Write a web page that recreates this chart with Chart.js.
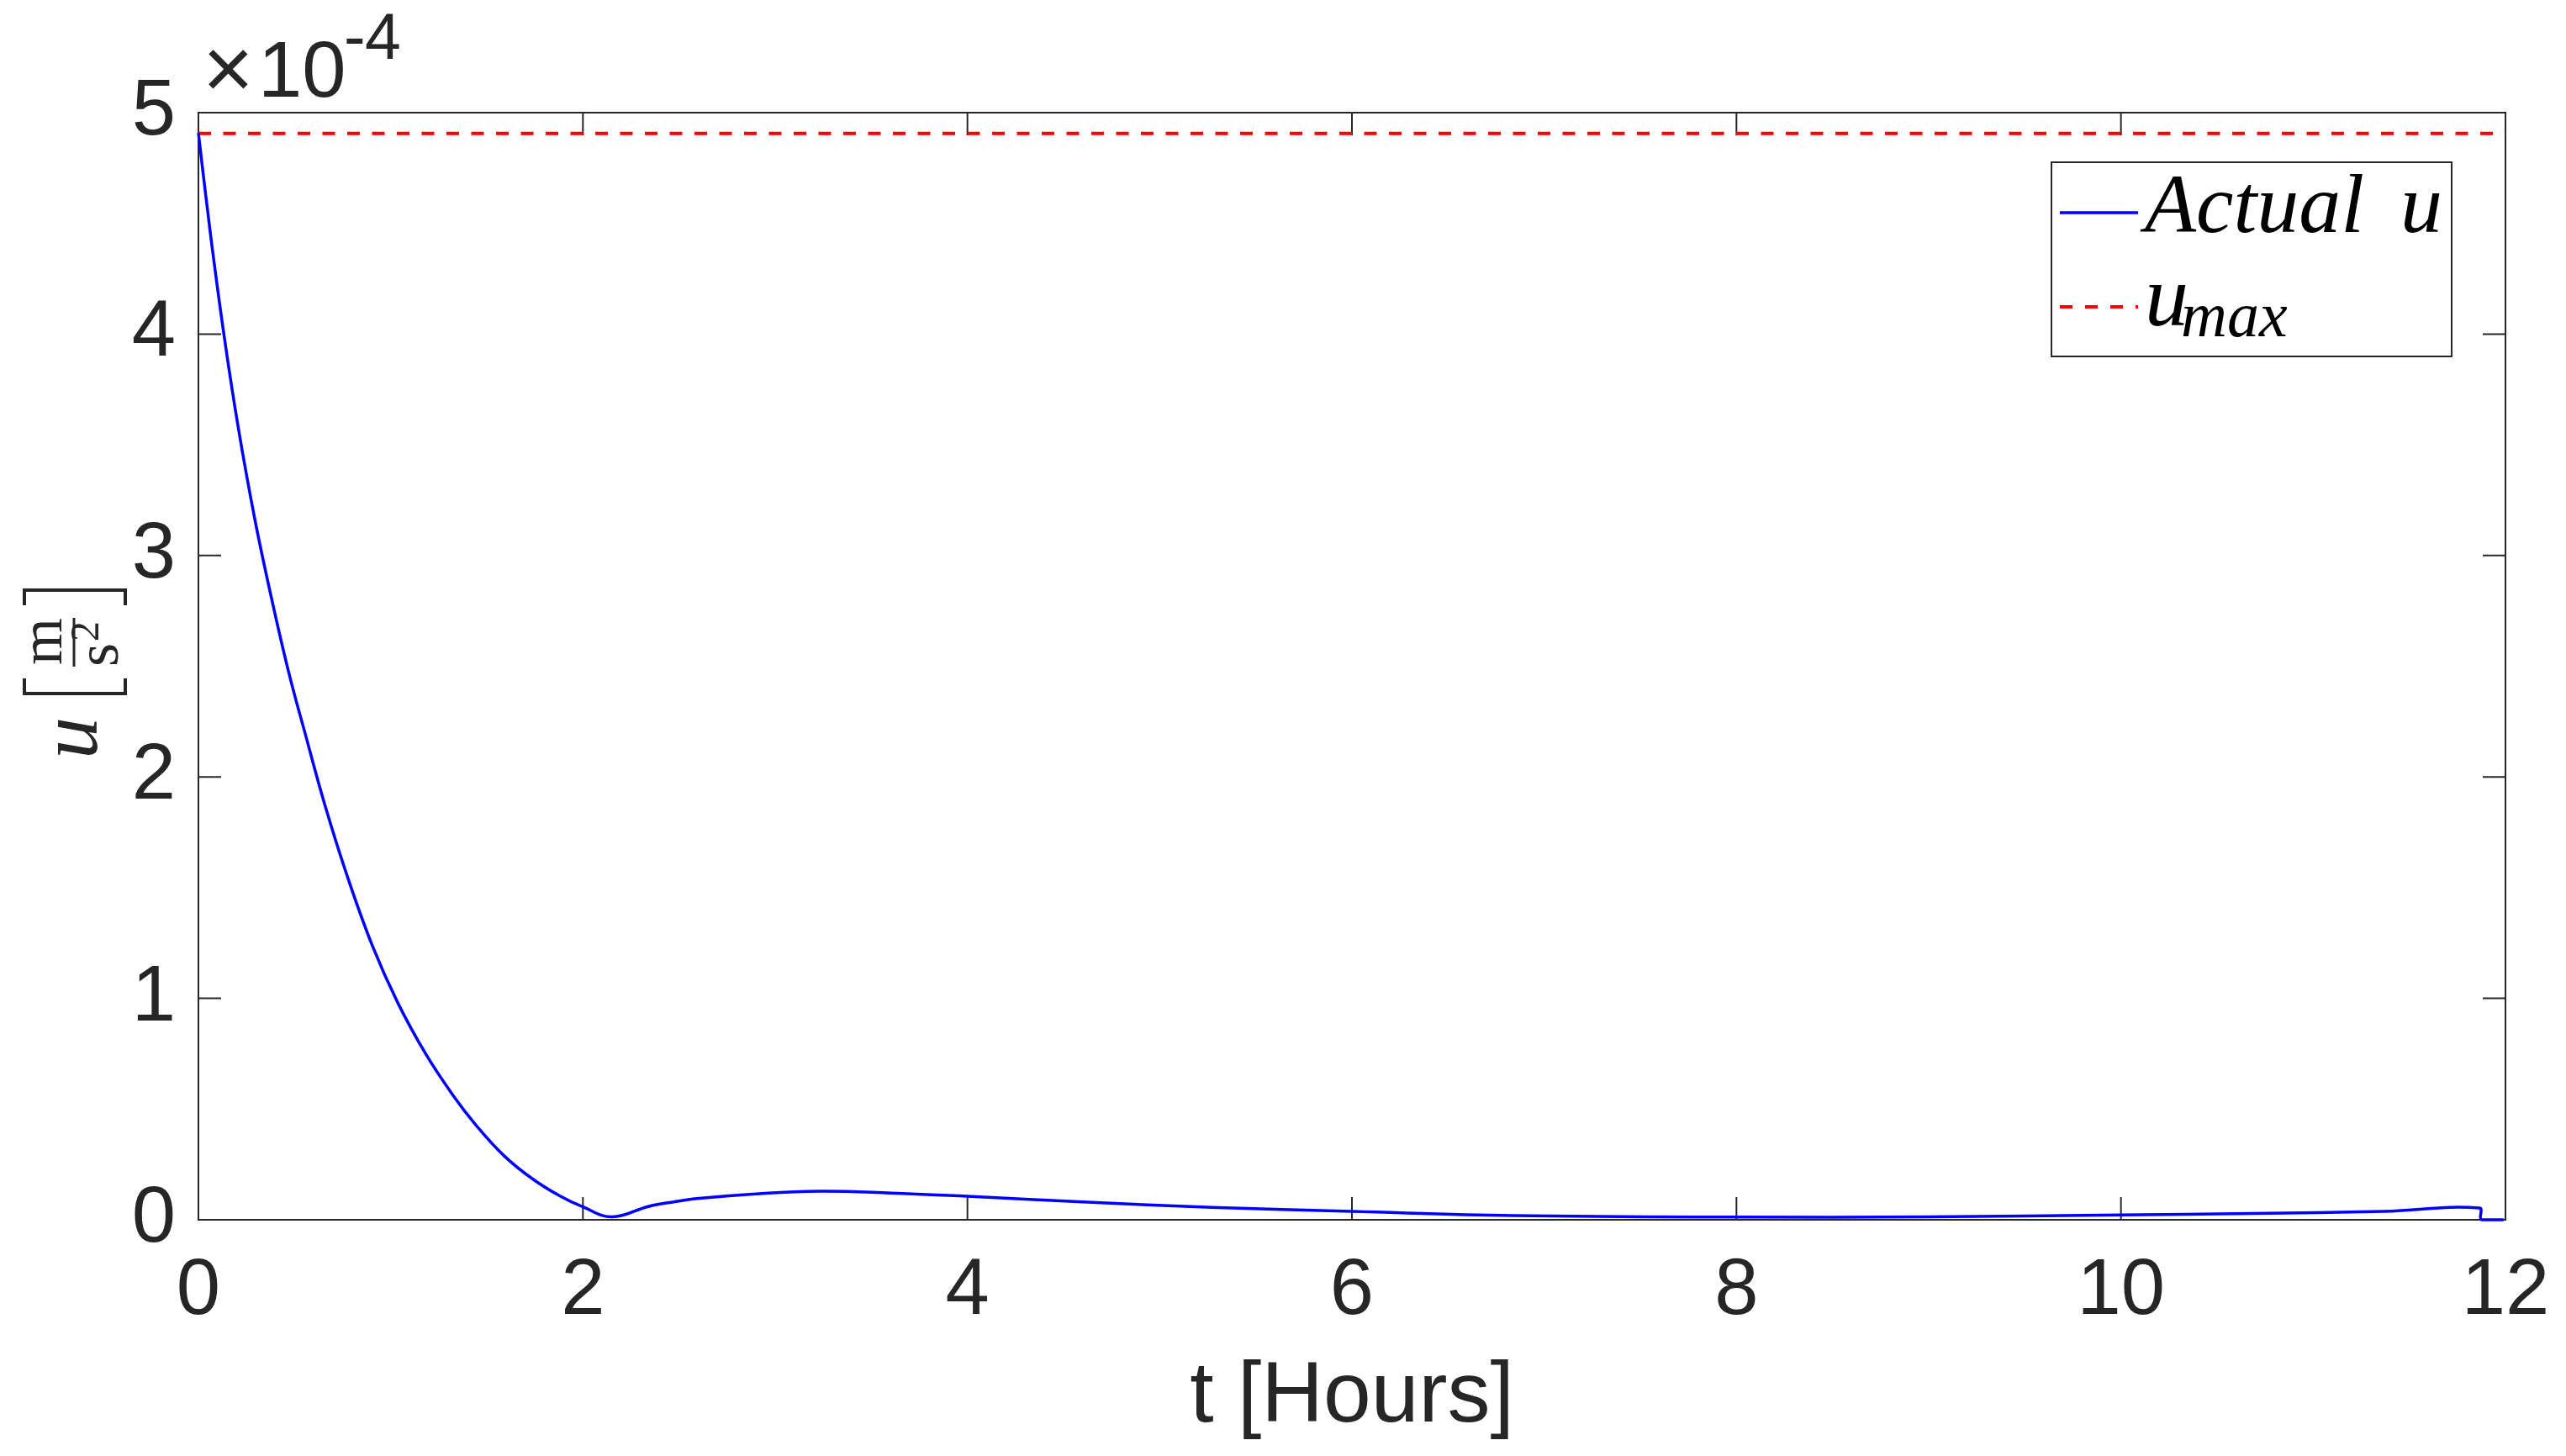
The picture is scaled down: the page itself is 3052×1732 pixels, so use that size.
<!DOCTYPE html>
<html>
<head>
<meta charset="utf-8">
<script src="https://cdn.jsdelivr.net/npm/chart.js@4.4.1/dist/chart.umd.min.js"></script>
<style>
  html, body { margin: 0; padding: 0; background: #ffffff; }
  #wrap { width: 3052px; height: 1732px; position: relative; }
</style>
</head>
<body>
<div id="wrap"><canvas id="c" width="3052" height="1732"></canvas></div>
<script>
// ---- data (u in units of 1e-4 m/s^2, t in hours) ----
const timeHours = [0, 0.061, 0.134, 0.207, 0.294, 0.382, 0.469, 0.557, 0.659, 0.775, 0.906, 1.037, 1.183, 1.322, 1.446, 1.591, 1.737, 1.883, 2.0, 2.152, 2.34, 2.466, 2.594, 2.9, 3.23, 3.6, 4.0, 4.6, 5.27, 6.0, 6.84, 8.0, 9.0, 10.0, 10.68, 11.37, 11.865, 11.875, 11.99];
const actualU = [4.908, 4.463, 3.99, 3.579, 3.161, 2.80, 2.475, 2.19, 1.87, 1.55, 1.235, 0.98, 0.748, 0.565, 0.425, 0.288, 0.185, 0.106, 0.058, 0.013, 0.06, 0.080, 0.096, 0.117, 0.129, 0.121, 0.106, 0.081, 0.056, 0.038, 0.019, 0.012, 0.013, 0.022, 0.028, 0.038, 0.053, 0.0, 0.0];
const umaxTime = [0, 12];
const umaxValue = [4.906, 4.906];
const xTicks = [0, 2, 4, 6, 8, 10, 12];
const yTicks = [0, 1, 2, 3, 4, 5];
const seriesNames = ['Actual u', 'u_max'];

const AX = '#262626';
const actualPts = timeHours.map((t, i) => ({ x: t, y: actualU[i] }));
const umaxPts = umaxTime.map((t, i) => ({ x: t, y: umaxValue[i] }));

const decor = {
  id: 'decor',
  beforeDatasetsDraw(chart) {
    const { ctx, chartArea: a, scales } = chart;
    ctx.save();
    ctx.strokeStyle = AX;
    ctx.lineWidth = 2;
    ctx.strokeRect(a.left, a.top, a.right - a.left, a.bottom - a.top);
    const tl = 27;
    ctx.beginPath();
    xTicks.forEach(v => {
      const px = scales.x.getPixelForValue(v);
      ctx.moveTo(px, a.bottom); ctx.lineTo(px, a.bottom - tl);
      ctx.moveTo(px, a.top); ctx.lineTo(px, a.top + tl);
    });
    yTicks.forEach(v => {
      const py = scales.y.getPixelForValue(v);
      ctx.moveTo(a.left, py); ctx.lineTo(a.left + tl, py);
      ctx.moveTo(a.right, py); ctx.lineTo(a.right - tl, py);
    });
    ctx.stroke();
    ctx.restore();
  },
  afterDraw(chart) {
    const { ctx } = chart;
    ctx.save();
    // exponent label x10^-4
    ctx.fillStyle = AX;
    ctx.textBaseline = 'alphabetic';
    ctx.textAlign = 'left';
    ctx.font = '104px "Liberation Sans"';
    ctx.fillText('\u00d7', 241, 117);
    ctx.font = '94px "Liberation Sans"';
    ctx.fillText('10', 307, 115);
    ctx.font = '77px "Liberation Sans"';
    ctx.fillText('-', 409, 70);
    ctx.fillText('4', 434, 70);

    // y-axis label: u [m / s^2] (rotated)
    ctx.save();
    ctx.translate(115, 903);
    ctx.rotate(-Math.PI / 2);
    ctx.fillStyle = AX;
    ctx.strokeStyle = AX;
    ctx.font = 'italic 100px "Liberation Serif"';
    ctx.textAlign = 'left';
    ctx.fillText('u', 0, 0);
    ctx.lineWidth = 4;
    ctx.beginPath();
    ctx.moveTo(96, -86); ctx.lineTo(78, -86); ctx.lineTo(78, 34); ctx.lineTo(96, 34);
    ctx.moveTo(183, -86); ctx.lineTo(201, -86); ctx.lineTo(201, 34); ctx.lineTo(183, 34);
    ctx.stroke();
    ctx.lineWidth = 3;
    ctx.beginPath();
    ctx.moveTo(110, -27); ctx.lineTo(168, -27);
    ctx.stroke();
    ctx.font = '72px "Liberation Serif"';
    ctx.textAlign = 'center';
    ctx.fillText('m', 140, -42);
    ctx.fillText('s', 124, 25);
    ctx.font = '48px "Liberation Serif"';
    ctx.textAlign = 'left';
    ctx.fillText('2', 140, 2);
    ctx.restore();

    // legend
    const L = 2440, T = 193, R = 2916, B = 424;
    ctx.fillStyle = '#ffffff';
    ctx.fillRect(L, T, R - L, B - T);
    ctx.strokeStyle = AX;
    ctx.lineWidth = 2;
    ctx.strokeRect(L, T, R - L, B - T);
    ctx.strokeStyle = '#0000ff';
    ctx.lineWidth = 3.5;
    ctx.beginPath(); ctx.moveTo(2450, 253); ctx.lineTo(2543, 253); ctx.stroke();
    ctx.strokeStyle = '#ff0000';
    ctx.lineWidth = 4;
    ctx.setLineDash([15, 15]);
    ctx.beginPath(); ctx.moveTo(2450, 365); ctx.lineTo(2543, 365); ctx.stroke();
    ctx.setLineDash([]);
    ctx.fillStyle = '#000000';
    ctx.textAlign = 'left';
    ctx.font = 'italic 100px "Liberation Serif"';
    ctx.fillText('Actual', 2551, 276);
    ctx.fillText('u', 2855, 276);
    ctx.font = 'italic 104px "Liberation Serif"';
    ctx.fillText('u', 2551, 387);
    ctx.font = 'italic 76px "Liberation Serif"';
    ctx.fillText('max', 2594, 400);
    ctx.restore();
  }
};

new Chart(document.getElementById('c'), {
  type: 'line',
  data: {
    datasets: [
      {
        label: seriesNames[0],
        data: actualPts,
        borderColor: '#0000ff',
        borderWidth: 3.5,
        pointRadius: 0,
        fill: false,
        tension: 0.4,
        clip: 4
      },
      {
        label: seriesNames[1],
        data: umaxPts,
        borderColor: '#ff0000',
        borderWidth: 4,
        borderDash: [15, 14.5],
        pointRadius: 0,
        fill: false
      }
    ]
  },
  options: {
    responsive: false,
    animation: false,
    devicePixelRatio: 1,
    layout: { padding: { top: 134, right: 72, left: 0, bottom: 0 } },
    plugins: { legend: { display: false }, tooltip: { enabled: false } },
    scales: {
      x: {
        type: 'linear',
        min: 0, max: 12,
        grid: { display: false, drawTicks: false },
        border: { display: false },
        afterBuildTicks: s => { s.ticks = xTicks.map(v => ({ value: v })); },
        ticks: { color: AX, font: { family: 'Liberation Sans', size: 94 }, padding: 30, maxRotation: 0, autoSkip: false },
        title: { display: true, text: 't [Hours]', color: AX, font: { family: 'Liberation Sans', size: 102 }, padding: { top: 0, bottom: 8 } },
        afterFit: s => { s.height = 281; s.paddingLeft = 0; s.paddingRight = 0; }
      },
      y: {
        min: 0, max: 5,
        grid: { display: false, drawTicks: false },
        border: { display: false },
        afterBuildTicks: s => { s.ticks = yTicks.map(v => ({ value: v })); },
        ticks: { color: AX, font: { family: 'Liberation Sans', size: 94 }, padding: 27, autoSkip: false },
        afterFit: s => { s.width = 236; s.paddingTop = 0; s.paddingBottom = 0; }
      }
    }
  },
  plugins: [decor]
});
</script>
</body>
</html>
